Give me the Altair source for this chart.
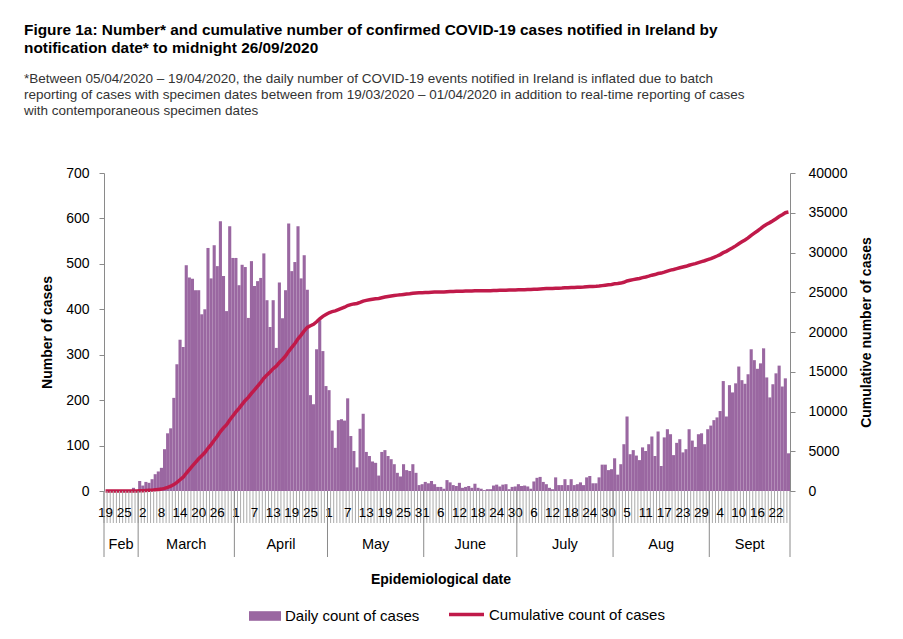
import altair as alt
import pandas as pd

# Daily confirmed cases by notification date
feb = [0, 0, 0, 0, 0, 0, 2, 2, 0, 7, 1]  # 19-29 Feb
mar = [22, 12, 20, 18, 26, 37, 43, 51, 92, 127, 138, 205, 279, 333, 317, 497,
       470, 467, 442, 442, 389, 400, 535, 468, 541, 495, 594, 473, 396, 583, 513]
apr = [513, 453, 498, 493, 381, 506, 451, 462, 469, 523, 420, 361, 420, 315, 459,
       380, 442, 589, 484, 504, 583, 468, 519, 443, 211, 191, 312, 376, 308, 231]
may = [222, 133, 95, 156, 158, 155, 204, 121, 88, 52, 137, 170, 86, 77, 65, 62,
       34, 86, 90, 77, 70, 59, 40, 32, 59, 46, 44, 59, 40, 13, 15]
jun = [20, 17, 22, 15, 9, 9, 5, 24, 19, 13, 11, 18, 7, 9, 11, 7, 16, 7, 5, 2, 4,
       4, 12, 14, 10, 14, 15, 4, 9, 10]
jul = [15, 11, 12, 10, 5, 21, 29, 31, 20, 15, 7, 4, 30, 13, 13, 26, 13, 26, 13,
       15, 19, 13, 30, 33, 17, 17, 30, 58, 58, 46, 48]
aug = [72, 36, 59, 103, 164, 81, 90, 78, 68, 96, 88, 103, 120, 77, 131, 55, 118,
       136, 125, 79, 106, 114, 85, 92, 136, 111, 97, 125, 127, 103, 136]
sep = [144, 156, 162, 176, 242, 164, 233, 217, 237, 274, 244, 236, 257, 312, 288,
       269, 281, 314, 250, 206, 235, 259, 276, 230, 248, 83]  # 1-26 Sept

month_names = ["Feb", "March", "April", "May", "June", "July", "Aug", "Sept"]
month_lengths = [len(feb), len(mar), len(apr), len(may), len(jun), len(jul), len(aug), len(sep)]
left_ticks = [0, 100, 200, 300, 400, 500, 600, 700]
right_ticks = [0, 5000, 10000, 15000, 20000, 25000, 30000, 35000, 40000]
series_names = ["Daily count of cases", "Cumulative count of cases"]
x_title = ["Epidemiological date"]

title_lines = [
    "Figure 1a: Number* and cumulative number of confirmed COVID-19 cases notified in Ireland by",
    "notification date* to midnight 26/09/2020",
]
NB = "\u00a0"
subtitle_lines = [
    NB * 2 + "*Between 05/04/2020 \u2013 19/04/2020, the daily number of COVID-19 events notified in Ireland is inflated due to batch",
    NB * 2 + "reporting of cases with specimen dates between from 19/03/2020 \u2013 01/04/2020 in addition to real-time reporting of cases",
    NB * 2 + "with  contemporaneous specimen dates",
]

daily = feb + mar + apr + may + jun + jul + aug + sep
dates = pd.date_range("2020-02-19", periods=len(daily), freq="D")
N = len(daily)

df = pd.DataFrame({"i": list(range(N)), "cases": daily})
df["i1"] = df["i"] + 1
df["mid"] = df["i"] + 0.5
df["base"] = 0
df["day"] = [str(d.day) for d in dates]
df["s_bar"] = series_names[0]
df["s_line"] = series_names[1]

starts = [0]
for L in month_lengths[:-1]:
    starts.append(starts[-1] + L)
mdf = pd.DataFrame({
    "name": month_names,
    "start": starts,
    "end": [s + L for s, L in zip(starts, month_lengths)],
})
mdf["center"] = (mdf["start"] + mdf["end"]) / 2
sep_df = pd.DataFrame({"b": starts + [N]})

PURPLE = "#9A67A1"
RED = "#C01A4A"
GREY = "#8a8a8a"
FONT = "Liberation Sans"

XS = alt.Scale(domain=[0, N], nice=False, zero=False)

bars = alt.Chart(df).mark_bar(strokeWidth=0).encode(
    x=alt.X("i:Q", scale=XS, axis=alt.Axis(
        title=None, labels=False, ticks=False, grid=False, domainColor=GREY)),
    x2="i1:Q",
    y=alt.Y("cases:Q", scale=alt.Scale(domain=[0, 700], nice=False), axis=alt.Axis(
        title="Number of cases", values=left_ticks, tickSize=5, labelPadding=10,
        grid=False, domainColor=GREY, tickColor=GREY, labelFont=FONT,
        labelFontSize=14, labelColor="black", titleFont=FONT, titleFontSize=14,
        titleFontWeight="bold", titleColor="black", titleX=-57, titleY=159,
        titleAngle=270, titleAlign="center", titleBaseline="middle")),
    y2="base:Q",
    fill=alt.Fill("s_bar:N", scale=alt.Scale(domain=[series_names[0]], range=[PURPLE]),
                  legend=alt.Legend(title=None, orient="none", legendX=145, legendY=427,
                                    symbolType="M-1,-0.3L1,-0.3L1,0.3L-1,0.3Z",
                                    symbolSize=1024, symbolStrokeWidth=0,
                                    labelFont=FONT, labelFontSize=15, labelColor="black",
                                    labelOffset=4, labelLimit=0, padding=0)),
)

line = alt.Chart(df).transform_window(
    cum="sum(cases)", frame=[None, 0], sort=[alt.SortField("i")]
).mark_line(strokeWidth=3.5).encode(
    x=alt.X("mid:Q", scale=XS, axis=None),
    y=alt.Y("cum:Q", scale=alt.Scale(domain=[0, 40000], nice=False), axis=alt.Axis(
        orient="right", title="Cumulative number of cases", values=right_ticks,
        format="d", tickSize=5, labelPadding=13, grid=False, domainColor=GREY,
        tickColor=GREY, labelFont=FONT, labelFontSize=14, labelColor="black",
        titleFont=FONT, titleFontSize=14, titleFontWeight="bold", titleColor="black",
        titleX=76, titleY=159, titleAngle=270, titleAlign="center",
        titleBaseline="middle")),
    stroke=alt.Stroke("s_line:N", scale=alt.Scale(domain=[series_names[1]], range=[RED]),
                      legend=alt.Legend(title=None, orient="none", legendX=343, legendY=422,
                                        symbolType="stroke", symbolSize=1225,
                                        symbolStrokeWidth=3.5, labelFont=FONT,
                                        labelFontSize=15, labelColor="black",
                                        labelOffset=3, labelLimit=0, padding=0)),
)

day_ticks = alt.Chart(df).mark_rule(color="#ababab", strokeWidth=1).encode(
    x=alt.X("i:Q", scale=XS, axis=None),
    y=alt.value(318), y2=alt.value(350),
)

day_labels = alt.Chart(df).transform_filter("datum.i % 6 == 0").mark_text(
    font=FONT, fontSize=13.5, color="black", align="center", baseline="middle"
).encode(
    x=alt.X("mid:Q", scale=XS, axis=None),
    y=alt.value(340),
    text="day:N",
)

month_rules = alt.Chart(sep_df).mark_rule(color=GREY, strokeWidth=1).encode(
    x=alt.X("b:Q", scale=XS, axis=None),
    y=alt.value(318), y2=alt.value(384),
)

month_labels = alt.Chart(mdf).mark_text(
    font=FONT, fontSize=14.5, color="black", align="center", baseline="middle"
).encode(
    x=alt.X("center:Q", scale=XS, axis=None),
    y=alt.value(372),
    text="name:N",
)

xtitle = alt.Chart(pd.DataFrame({"t": x_title})).mark_text(
    font=FONT, fontSize=14, fontWeight="bold", color="black",
    align="center", baseline="middle"
).encode(
    x=alt.value(337), y=alt.value(407), text="t:N",
)

chart = alt.layer(
    bars, line, day_ticks, day_labels, month_rules, month_labels, xtitle
).resolve_scale(
    y="independent"
).properties(
    width=686, height=318,
    autosize=alt.AutoSizeParams(type="none"),
    padding={"left": 104, "top": 173, "right": 113, "bottom": 148},
    title=alt.TitleParams(
        text=title_lines, subtitle=subtitle_lines, anchor="start", frame="group",
        dx=-80, offset=49, font=FONT, fontSize=15.4, fontWeight="bold", color="black",
        lineHeight=18, subtitleFont=FONT, subtitleFontSize=13.5,
        subtitleColor="#333333", subtitleLineHeight=16, subtitlePadding=15,
    ),
    background="white",
).configure_view(stroke=None)

chart.save("out.html", embed_options={"renderer": "svg", "actions": False})
